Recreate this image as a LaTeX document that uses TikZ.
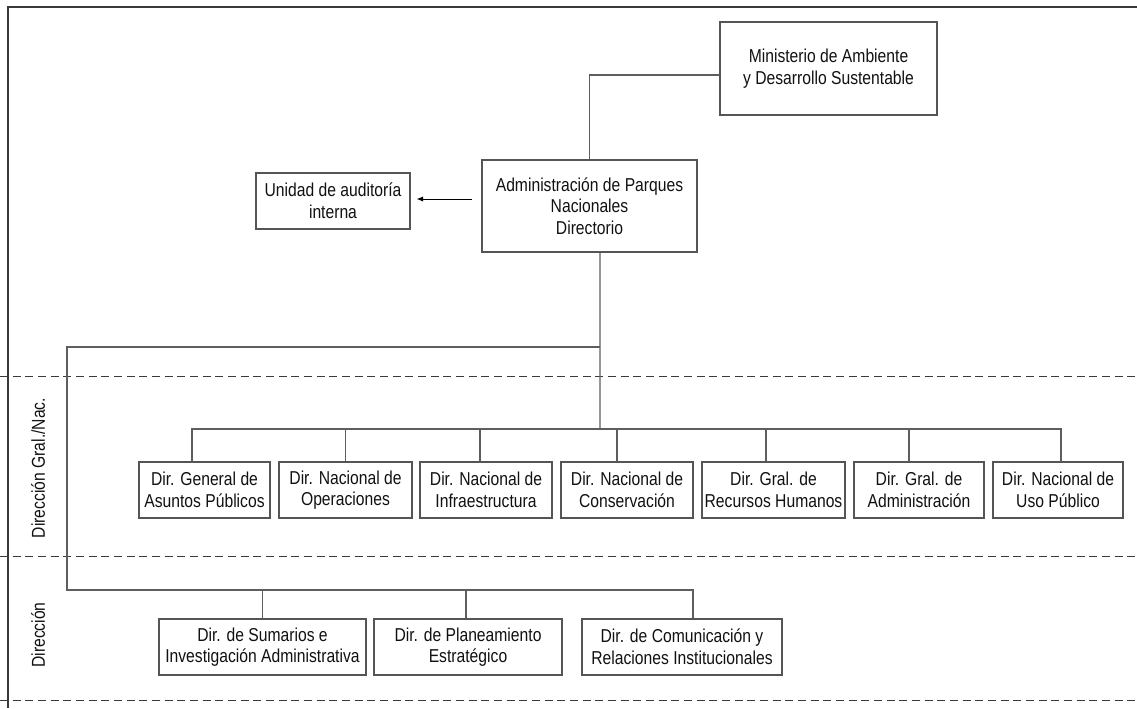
\documentclass[tikz,border=0pt]{standalone}
\usepackage{fontspec}
\setmainfont{Liberation Sans}[FakeStretch=0.84]
\usepackage{tikz}
\usetikzlibrary{arrows.meta,positioning,calc}
\usepackage{xcolor}
\definecolor{apnFrame}{HTML}{3A3A3A}
\definecolor{apnBox}{HTML}{555555}
\definecolor{apnLink}{HTML}{5E5E5E}
\definecolor{apnText}{HTML}{111111}

\begin{document}
\begin{tikzpicture}[x=0.75pt, y=-0.75pt,
  unit/.style={draw=apnBox, line width=0.8pt, align=center, inner sep=1pt, minimum height=42pt, text=apnText, font=\fontsize{14}{16.2}\selectfont},
  lanelabel/.style={rotate=90, text=apnText, font=\fontsize{14}{16.2}\selectfont},
  link/.style={draw=apnLink, line width=1pt},
  flow/.style={-{Latex[length=5pt,width=4pt]}, black, line width=0.75pt},
  lane/.style={draw=apnFrame, line width=0.6pt, dash pattern=on 6pt off 3.5pt}]
\useasboundingbox (0,0) rectangle (1137,708);

% frame and lanes
\draw[apnFrame, line width=0.8pt] (8,708) -- (8,7) -- (1137,7);
\draw[lane] (0,376) -- (1137,376);
\draw[lane] (0,556) -- (1137,556);
\draw[lane] (0,700) -- (1137,700);
\node[lanelabel] (laneG) at (38,468) {Dirección Gral./Nac.};
\node[lanelabel] (laneD) at (38,635) {Dirección};

% top levels
\node[unit, minimum width=162.75pt, minimum height=69.75pt] (mini) at (828.5,68.5) {Ministerio de Ambiente\\y Desarrollo Sustentable};
\node[unit, minimum width=161.25pt, minimum height=69pt] (admin) at (589.5,206) {Administración de Parques\\Nacionales\\Directorio};
\node[unit, minimum width=115.5pt] (audit) at (333,201) {Unidad de auditoría\\interna};

% direcciones generales / nacionales
\node[unit, minimum width=98.25pt]  (g1) at (204.5,490) {Dir. General de\\Asuntos Públicos};
\node[unit, minimum width=99.75pt]  (g2) at (345.5,490) {Dir. Nacional de\\Operaciones};
\node[unit, minimum width=99pt]     (g3) at (486,490)   {Dir. Nacional de\\Infraestructura};
\node[unit, minimum width=99pt]     (g4) at (627,490)   {Dir. Nacional de\\Conservación};
\node[unit, minimum width=107.25pt] (g5) at (773.5,490) {Dir. Gral. de\\Recursos Humanos};
\node[unit, minimum width=97.5pt]   (g6) at (919,490)   {Dir. Gral. de\\Administración};
\node[unit, minimum width=97.5pt]   (g7) at (1058,490)  {Dir. Nacional de\\Uso Público};

% direcciones
\node[unit, minimum width=155.25pt] (d1) at (262.5,647) {Dir. de Sumarios e\\Investigación Administrativa};
\node[unit, minimum width=141pt]    (d2) at (468,647)   {Dir. de Planeamiento\\Estratégico};
\node[unit, minimum width=150pt]    (d3) at (682,647)   {Dir. de Comunicación y\\Relaciones Institucionales};

\coordinate (busL) at (600,347);
\coordinate (busG) at (600,429);
\coordinate (cornerD) at (67,590);

% connectors
\draw[link] (admin.north) |- ([yshift=-4.9pt]mini.west);
\draw[flow] ($(admin.west |- audit.east)+(-6.75pt,1.5pt)$) -- ($(audit.east)+(4.5pt,1.5pt)$);
\draw[link] ([xshift=7.9pt]admin.south) -- (busG);
\draw[link] ([xshift=-9.4pt]g1.north) |- (busG) -| ([xshift=2.25pt]g7.north);
\draw[link] (g2.north) -- (g2.north |- busG);
\draw[link] ([xshift=-4.5pt]g3.north) -- ([xshift=-4.5pt]g3.north |- busG);
\draw[link] ([xshift=-7.5pt]g4.north) -- ([xshift=-7.5pt]g4.north |- busG);
\draw[link] ([xshift=-5.6pt]g5.north) -- ([xshift=-5.6pt]g5.north |- busG);
\draw[link] ([xshift=-7.5pt]g6.north) -- ([xshift=-7.5pt]g6.north |- busG);
\draw[link] (busL) -| (cornerD) -| ([xshift=8.25pt]d3.north);
\draw[link] (d1.north) -- (d1.north |- cornerD);
\draw[link] ([xshift=-1.5pt]d2.north) -- ([xshift=-1.5pt]d2.north |- cornerD);
\end{tikzpicture}
\end{document}
